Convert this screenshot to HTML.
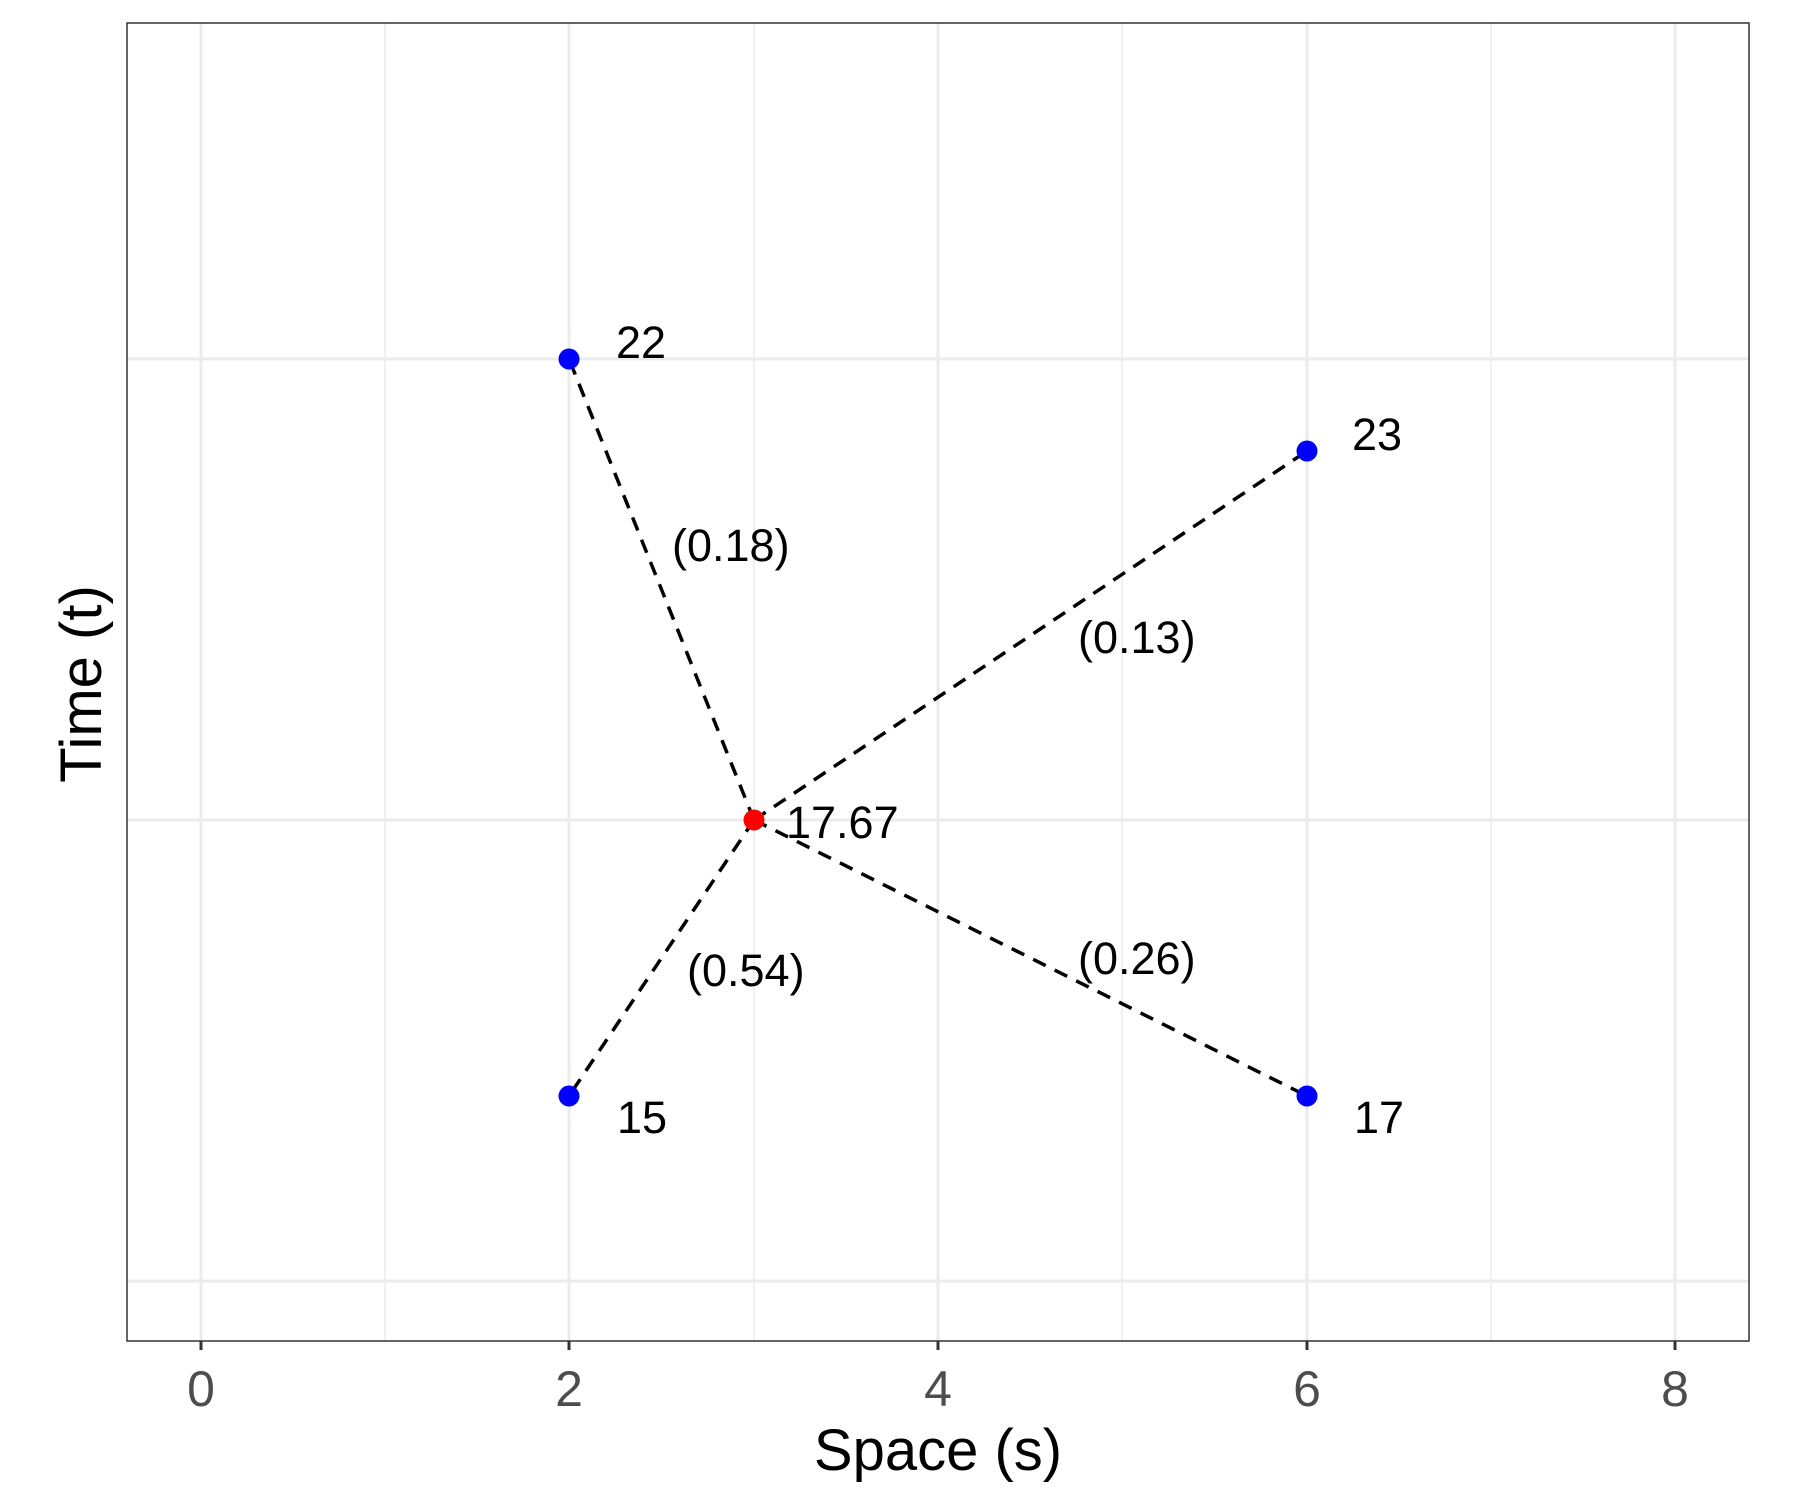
<!DOCTYPE html>
<html><head><style>body{margin:0;background:#fff}svg{display:block}</style></head><body>
<svg width="1800" height="1500" xmlns="http://www.w3.org/2000/svg" font-family="Liberation Sans, sans-serif">
<rect width="1800" height="1500" fill="#fff"/>
<g stroke="#ebebeb" stroke-width="1.5">
<line x1="385" y1="23" x2="385" y2="1341"/><line x1="754" y1="23" x2="754" y2="1341"/><line x1="1122" y1="23" x2="1122" y2="1341"/><line x1="1491" y1="23" x2="1491" y2="1341"/>
</g>
<g stroke="#ebebeb" stroke-width="3">
<line x1="201" y1="23" x2="201" y2="1341"/><line x1="569" y1="23" x2="569" y2="1341"/><line x1="938" y1="23" x2="938" y2="1341"/><line x1="1307" y1="23" x2="1307" y2="1341"/><line x1="1675" y1="23" x2="1675" y2="1341"/>
<line x1="127" y1="359" x2="1749" y2="359"/><line x1="127" y1="820" x2="1749" y2="820"/><line x1="127" y1="1281" x2="1749" y2="1281"/>
</g>
<g stroke="#000" stroke-width="3.5" stroke-dasharray="14,10" fill="none">
<line x1="754" y1="820" x2="569" y2="359"/><line x1="754" y1="820" x2="1307" y2="451"/><line x1="754" y1="820" x2="569" y2="1096"/><line x1="754" y1="820" x2="1307" y2="1096"/>
</g>
<g fill="#0000ff"><circle cx="569" cy="359" r="10.5"/><circle cx="1307" cy="451" r="10.5"/><circle cx="569" cy="1096" r="10.5"/><circle cx="1307" cy="1096" r="10.5"/></g>
<circle cx="754" cy="820" r="10.5" fill="#ff0000"/>
<rect x="127" y="23" width="1622" height="1318" fill="none" stroke="#333" stroke-width="1.5"/>
<g font-size="45" fill="#000">
<text x="616" y="358">22</text><text x="1352" y="450">23</text><text x="786" y="838">17.67</text>
<text x="617" y="1133">15</text><text x="1354" y="1133">17</text>
<text x="672" y="561">(0.18)</text><text x="1078" y="653">(0.13)</text><text x="687" y="986">(0.54)</text><text x="1078" y="974">(0.26)</text>
</g>
<g stroke="#333" stroke-width="3"><line x1="201" y1="1341" x2="201" y2="1350"/><line x1="569" y1="1341" x2="569" y2="1350"/><line x1="938" y1="1341" x2="938" y2="1350"/><line x1="1307" y1="1341" x2="1307" y2="1350"/><line x1="1675" y1="1341" x2="1675" y2="1350"/></g>
<g font-size="50" fill="#4d4d4d" text-anchor="middle">
<text x="201" y="1406">0</text><text x="569" y="1406">2</text><text x="938" y="1406">4</text><text x="1307" y="1406">6</text><text x="1675" y="1406">8</text>
</g>
<text x="938" y="1470" font-size="58" text-anchor="middle">Space (s)</text>
<text transform="translate(101,684) rotate(-90)" font-size="58" text-anchor="middle">Time (t)</text>
</svg>
</body></html>
